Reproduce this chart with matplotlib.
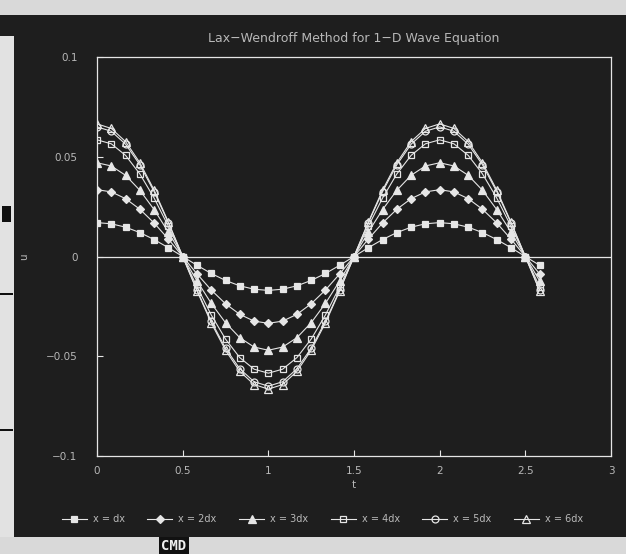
import matplotlib
matplotlib.use("Agg")
import matplotlib.pyplot as plt
from matplotlib.patches import Rectangle

# ---- data ----
t = [0.0000, 0.0833, 0.1667, 0.2500, 0.3333, 0.4167, 0.5000, 0.5833,
     0.6667, 0.7500, 0.8333, 0.9167, 1.0000, 1.0833, 1.1667, 1.2500,
     1.3333, 1.4167, 1.5000, 1.5833, 1.6667, 1.7500, 1.8333, 1.9167,
     2.0000, 2.0833, 2.1667, 2.2500, 2.3333, 2.4167, 2.5000, 2.5833]

u_dx = [0.0170, 0.0164, 0.0147, 0.0120, 0.0085, 0.0044, 0.0000, -0.0044,
        -0.0085, -0.0120, -0.0147, -0.0164, -0.0170, -0.0164, -0.0147, -0.0120,
        -0.0085, -0.0044, 0.0000, 0.0044, 0.0085, 0.0120, 0.0147, 0.0164,
        0.0170, 0.0164, 0.0147, 0.0120, 0.0085, 0.0044, 0.0000, -0.0044]
u_2dx = [0.0335, 0.0324, 0.0290, 0.0237, 0.0168, 0.0087, 0.0000, -0.0087,
         -0.0168, -0.0237, -0.0290, -0.0324, -0.0335, -0.0324, -0.0290, -0.0237,
         -0.0168, -0.0087, 0.0000, 0.0087, 0.0168, 0.0237, 0.0290, 0.0324,
         0.0335, 0.0324, 0.0290, 0.0237, 0.0168, 0.0087, 0.0000, -0.0087]
u_3dx = [0.0470, 0.0454, 0.0407, 0.0332, 0.0235, 0.0122, 0.0000, -0.0122,
         -0.0235, -0.0332, -0.0407, -0.0454, -0.0470, -0.0454, -0.0407, -0.0332,
         -0.0235, -0.0122, 0.0000, 0.0122, 0.0235, 0.0332, 0.0407, 0.0454,
         0.0470, 0.0454, 0.0407, 0.0332, 0.0235, 0.0122, 0.0000, -0.0122]
u_4dx = [0.0585, 0.0565, 0.0507, 0.0414, 0.0293, 0.0151, 0.0000, -0.0151,
         -0.0293, -0.0414, -0.0507, -0.0565, -0.0585, -0.0565, -0.0507, -0.0414,
         -0.0293, -0.0151, 0.0000, 0.0151, 0.0293, 0.0414, 0.0507, 0.0565,
         0.0585, 0.0565, 0.0507, 0.0414, 0.0293, 0.0151, 0.0000, -0.0151]
u_5dx = [0.0650, 0.0628, 0.0563, 0.0460, 0.0325, 0.0168, 0.0000, -0.0168,
         -0.0325, -0.0460, -0.0563, -0.0628, -0.0650, -0.0628, -0.0563, -0.0460,
         -0.0325, -0.0168, 0.0000, 0.0168, 0.0325, 0.0460, 0.0563, 0.0628,
         0.0650, 0.0628, 0.0563, 0.0460, 0.0325, 0.0168, 0.0000, -0.0168]
u_6dx = [0.0665, 0.0642, 0.0576, 0.0470, 0.0333, 0.0172, 0.0000, -0.0172,
         -0.0333, -0.0470, -0.0576, -0.0642, -0.0665, -0.0642, -0.0576, -0.0470,
         -0.0333, -0.0172, 0.0000, 0.0172, 0.0333, 0.0470, 0.0576, 0.0642,
         0.0665, 0.0642, 0.0576, 0.0470, 0.0333, 0.0172, 0.0000, -0.0172]

labels = ["x = dx", "x = 2dx", "x = 3dx", "x = 4dx", "x = 5dx", "x = 6dx"]
xticks = [0, 0.5, 1, 1.5, 2, 2.5, 3]
xticklabels = ["0", "0.5", "1", "1.5", "2", "2.5", "3"]
yticks = [-0.1, -0.05, 0, 0.05, 0.1]
yticklabels = ["\u22120.1", "\u22120.05", "0", "0.05", "0.1"]

series = [u_dx, u_2dx, u_3dx, u_4dx, u_5dx, u_6dx]

# ---- style ----
BG = "#1e1e1e"
FG = "#e6e6e6"
TXT = "#b8b8b8"
markers = ["s", "D", "^", "s", "o", "^"]
filled = [True, True, True, False, False, False]
msizes = [5.0, 4.5, 6.0, 5.0, 5.0, 6.0]

fig = plt.figure(figsize=(6.26, 5.54), dpi=100, facecolor="#d9d9d9")

# photo frame: dark screen area, light strips
fig.patches.append(Rectangle((0, 0.031), 1, 0.942, transform=fig.transFigure,
                             facecolor=BG, edgecolor="none", zorder=-3))
fig.patches.append(Rectangle((0, 0.031), 0.022, 0.904, transform=fig.transFigure,
                             facecolor="#e2e2e2", edgecolor="none", zorder=-2))
fig.patches.append(Rectangle((0.003, 0.600), 0.014, 0.028, transform=fig.transFigure,
                             facecolor="#101010", edgecolor="none", zorder=-1))
for yy in [0.467, 0.222]:
    fig.patches.append(Rectangle((0.0, yy), 0.020, 0.004, transform=fig.transFigure,
                                 facecolor="#101010", edgecolor="none", zorder=-1))
fig.text(0.278, 0.0145, "CMD", color="#f0f0f0", fontsize=10, fontweight="bold",
         family="DejaVu Sans Mono", ha="center", va="center",
         bbox=dict(boxstyle="square,pad=0.15", facecolor="#111111", edgecolor="none"))

ax = fig.add_axes([0.155, 0.177, 0.821, 0.72])
ax.set_zorder(2)
ax.patch.set_visible(False)

handles = []
for i, (vals, lab) in enumerate(zip(series, labels)):
    mfc = FG if filled[i] else "none"
    ln, = ax.plot(t, vals, color=FG, lw=0.8, marker=markers[i], ms=msizes[i],
                  mfc=mfc, mec=FG, mew=0.9, label=lab)
    handles.append(ln)

ax.axhline(0, color=FG, lw=0.9, zorder=0.5)
ax.set_xlim(0, 3)
ax.set_ylim(-0.1, 0.1)
ax.set_xticks(xticks)
ax.set_xticklabels(xticklabels)
ax.set_yticks(yticks)
ax.set_yticklabels(yticklabels)
ax.tick_params(direction="in", colors=FG, labelcolor=TXT, labelsize=7.5, length=4, width=0.8)
ax.tick_params(axis="x", pad=7)
ax.tick_params(axis="y", pad=14)
for s in ax.spines.values():
    s.set_color(FG)
    s.set_linewidth(0.9)

ax.set_title("Lax\u2212Wendroff Method for 1\u2212D Wave Equation", color=TXT, fontsize=9, pad=11)
ax.set_xlabel("t", color=TXT, fontsize=7.5, labelpad=3)
ax.set_ylabel("u", color=TXT, fontsize=7.5, labelpad=12)

leg = fig.legend(handles=handles, labels=labels, loc="center", bbox_to_anchor=(0.515, 0.063),
                 ncol=6, frameon=False, fontsize=7, labelcolor=TXT, handlelength=2.6,
                 handletextpad=0.6, columnspacing=2.3)
leg.set_zorder(3)

fig.savefig("out.png", dpi=100, facecolor=fig.get_facecolor())
